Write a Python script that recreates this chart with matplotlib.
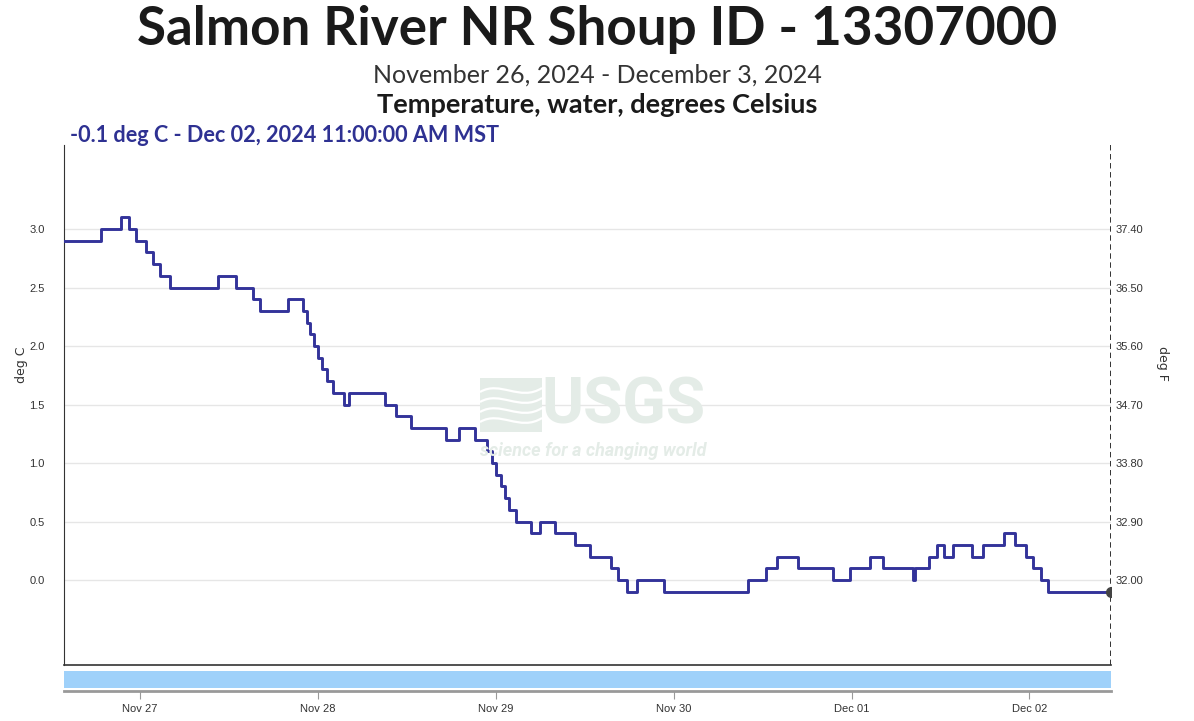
import matplotlib
matplotlib.use("Agg")
import matplotlib.pyplot as plt
import matplotlib.dates as mdates
import pandas as pd
from matplotlib.patches import Rectangle, PathPatch
from matplotlib.path import Path

# step changes of water temperature (deg C), value holds until next time
times = ["2024-11-26 13:45", "2024-11-26 18:45", "2024-11-26 21:30", "2024-11-26 22:30",
         "2024-11-26 23:30", "2024-11-27 00:45", "2024-11-27 01:45", "2024-11-27 02:45",
         "2024-11-27 04:00", "2024-11-27 10:30", "2024-11-27 13:00", "2024-11-27 15:15",
         "2024-11-27 16:15", "2024-11-27 20:00", "2024-11-27 22:00", "2024-11-27 22:30",
         "2024-11-27 23:00", "2024-11-27 23:30", "2024-11-28 00:00", "2024-11-28 00:30",
         "2024-11-28 01:15", "2024-11-28 02:00", "2024-11-28 03:30", "2024-11-28 04:15",
         "2024-11-28 09:00", "2024-11-28 10:30", "2024-11-28 12:30", "2024-11-28 17:15",
         "2024-11-28 19:00", "2024-11-28 21:15", "2024-11-28 22:45", "2024-11-28 23:30",
         "2024-11-29 00:00", "2024-11-29 00:45", "2024-11-29 01:15", "2024-11-29 01:45",
         "2024-11-29 02:45", "2024-11-29 04:45", "2024-11-29 06:00", "2024-11-29 08:00",
         "2024-11-29 10:45", "2024-11-29 12:45", "2024-11-29 15:30", "2024-11-29 16:30",
         "2024-11-29 17:45", "2024-11-29 19:00", "2024-11-29 22:45", "2024-11-30 10:00",
         "2024-11-30 12:30", "2024-11-30 14:00", "2024-11-30 16:45", "2024-11-30 21:30",
         "2024-11-30 23:45", "2024-12-01 02:30", "2024-12-01 04:15", "2024-12-01 08:15",
         "2024-12-01 08:30", "2024-12-01 10:30", "2024-12-01 11:30", "2024-12-01 12:30",
         "2024-12-01 13:45", "2024-12-01 16:15", "2024-12-01 17:45", "2024-12-01 20:30",
         "2024-12-01 22:00", "2024-12-01 23:30", "2024-12-02 00:30", "2024-12-02 01:30",
         "2024-12-02 02:30", "2024-12-02 11:00"]
temps = [2.9, 3.0, 3.1, 3.0, 2.9, 2.8, 2.7, 2.6,
         2.5, 2.6, 2.5, 2.4, 2.3, 2.4, 2.3, 2.2,
         2.1, 2.0, 1.9, 1.8, 1.7, 1.6, 1.5, 1.6,
         1.5, 1.4, 1.3, 1.2, 1.3, 1.2, 1.1, 1.0,
         0.9, 0.8, 0.7, 0.6, 0.5, 0.4, 0.5, 0.4,
         0.3, 0.2, 0.1, 0.0, -0.1, 0.0, -0.1, 0.0,
         0.1, 0.2, 0.1, 0.0, 0.1, 0.2, 0.1, 0.0,
         0.1, 0.2, 0.3, 0.2, 0.3, 0.2, 0.3, 0.4,
         0.3, 0.2, 0.1, 0.0, -0.1, -0.1]
c_ticks = [0.0, 0.5, 1.0, 1.5, 2.0, 2.5, 3.0]
f_labels = ["32.00", "32.90", "33.80", "34.70", "35.60", "36.50", "37.40"]
day_ticks = ["2024-11-27", "2024-11-28", "2024-11-29", "2024-11-30", "2024-12-01", "2024-12-02"]

t = pd.to_datetime(times)
W, H = 1194, 721
fig = plt.figure(figsize=(W / 100, H / 100), dpi=100)
fy = lambda y: 1 - y / H

line_c = '#33339a'
left, right, top, bot = 64, 1111, 145, 665
ax = fig.add_axes([left / W, fy(bot), (right - left) / W, (bot - top) / H])
ax.plot(t, temps, drawstyle='steps-post', color=line_c, lw=2.1, zorder=3)
ax.plot(t[-1], temps[-1], 'o', color='#444444', ms=7, zorder=4)
ax.axvline(t[-1], color='#222222', ls=(0, (3, 2)), lw=1.3, zorder=2)
ax.set_xlim(t[0], t[-1])
ax.set_ylim(-0.726, 3.718)
ax.set_yticks(c_ticks)
ax.set_yticklabels([f"{v:.1f}" for v in c_ticks], fontsize=8, color='#333333', family='Liberation Sans')
ax.tick_params(axis='y', length=0, pad=14)
ax.set_xticks([])
ax.grid(axis='y', color='#e6e6e6', lw=1)
ax.set_axisbelow(True)
for s in ['top', 'right']:
    ax.spines[s].set_visible(False)
ax.spines['left'].set_color('#333333')
ax.spines['bottom'].set_color('#333333')
ax.spines['bottom'].set_linewidth(1.2)

axr = ax.twinx()
axr.set_ylim(ax.get_ylim())
axr.set_yticks(c_ticks)
axr.set_yticklabels(f_labels, fontsize=8, color='#333333', family='Liberation Sans')
axr.tick_params(axis='y', length=0, pad=3)
for s in ['top', 'right', 'left', 'bottom']:
    axr.spines[s].set_visible(False)

fig.text(22 / W, fy(365), 'deg C', rotation=90, ha='center', va='center', fontsize=9, color='#333333')
fig.text(1163 / W, fy(363), 'deg F', rotation=270, ha='center', va='center', fontsize=9, color='#333333')

# USGS watermark
wm = '#e4ece7'
ax.add_patch(Rectangle((480 / W, fy(432)), 62 / W, 54 / H, transform=fig.transFigure,
                       color=wm, zorder=1, lw=0))
for y0 in [392, 402, 412, 422]:
    p = Path([(480 / W, fy(y0)), (500 / W, fy(y0 - 12)), (520 / W, fy(y0 + 10)), (542 / W, fy(y0 - 4))],
             [Path.MOVETO, Path.CURVE4, Path.CURVE4, Path.CURVE4])
    ax.add_patch(PathPatch(p, transform=fig.transFigure, fill=False, edgecolor='white', lw=1.6, zorder=1))
fig.text(623 / W, fy(406), 'USGS', ha='center', va='center', fontsize=46, fontweight='bold',
         color=wm, family='Roboto', zorder=1)
fig.text(593 / W, fy(451), 'science for a changing world', ha='center', va='center', fontsize=13,
         style='italic', fontweight='bold', color=wm, family='Roboto', zorder=1)

# approval bar + date axis
ax2 = fig.add_axes([left / W, fy(691), (right - left) / W, 23 / H])
ax2.fill_between([t[0], t[-1]], 0.12, 0.88, color='#9fd1fa', lw=0)
ax2.set_xlim(t[0], t[-1])
ax2.set_ylim(0, 1)
ax2.set_yticks([])
ax2.set_xticks(pd.to_datetime(day_ticks))
ax2.xaxis.set_major_formatter(mdates.DateFormatter('%b %d'))
ax2.tick_params(axis='x', length=6, color='#999999', labelsize=8, labelcolor='#333333', pad=3)
for lab in ax2.get_xticklabels():
    lab.set_family('Liberation Sans')
for s in ['top', 'right', 'left']:
    ax2.spines[s].set_visible(False)
ax2.spines['bottom'].set_color('#999999')
ax2.spines['bottom'].set_linewidth(2)

fig.text(0.5, fy(30), 'Salmon River NR Shoup ID - 13307000', ha='center', va='center',
         fontsize=38.2, fontweight='bold', color='#1a1a1a', family='Lato')
fig.text(0.5, fy(75), 'November 26, 2024 - December 3, 2024', ha='center', va='center',
         fontsize=18, color='#333333', family='Lato')
fig.text(0.5, fy(105), 'Temperature, water, degrees Celsius', ha='center', va='center',
         fontsize=19.5, fontweight='bold', color='#1a1a1a', family='Lato')
fig.text(70 / W, fy(135), '-0.1 deg C - Dec 02, 2024 11:00:00 AM MST', ha='left', va='center',
         fontsize=15.6, fontweight='bold', color='#2e3192', family='Lato')

fig.savefig('out.png', dpi=100)
